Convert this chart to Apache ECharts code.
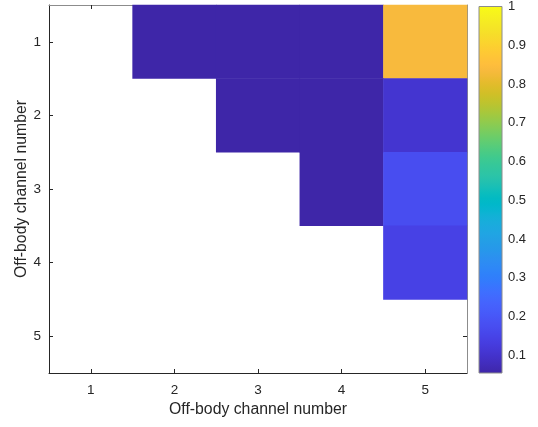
<!DOCTYPE html>
<html>
<head>
<meta charset="utf-8">
<script src="https://cdn.jsdelivr.net/npm/echarts@6/dist/echarts.min.js"></script>
<style>
html,body{margin:0;padding:0;background:#fff;}
#chart{width:538px;height:427px;}
</style>
</head>
<body>
<div id="chart"></div>
<script>
// Data
const xCategories = ['1', '2', '3', '4', '5'];
const yCategories = ['1', '2', '3', '4', '5'];
const row1 = [null, 0.054, 0.054, 0.054, 0.835];
const row2 = [null, null, 0.054, 0.054, 0.107];
const row3 = [null, null, null, 0.054, 0.174];
const row4 = [null, null, null, null, 0.144];
const row5 = [null, null, null, null, null];
const colorMin = 0.054;
const colorMax = 1;
const colorbarTicks = [0.1, 0.2, 0.3, 0.4, 0.5, 0.6, 0.7, 0.8, 0.9, 1];
const xTitle = 'Off-body channel number';
const yTitle = 'Off-body channel number';

// Parula colormap (64 entries)
const parula = [
[0.2422,0.1504,0.6603],[0.2504,0.1650,0.7076],[0.2578,0.1818,0.7511],[0.2647,0.1978,0.7952],
[0.2706,0.2147,0.8364],[0.2751,0.2342,0.8710],[0.2783,0.2559,0.8991],[0.2803,0.2782,0.9221],
[0.2813,0.3006,0.9414],[0.2810,0.3228,0.9579],[0.2795,0.3447,0.9717],[0.2760,0.3667,0.9829],
[0.2699,0.3892,0.9906],[0.2602,0.4123,0.9952],[0.2440,0.4358,0.9988],[0.2206,0.4603,0.9973],
[0.1963,0.4847,0.9892],[0.1834,0.5074,0.9798],[0.1786,0.5289,0.9682],[0.1764,0.5499,0.9520],
[0.1687,0.5703,0.9359],[0.1540,0.5902,0.9218],[0.1460,0.6091,0.9079],[0.1380,0.6276,0.8973],
[0.1248,0.6459,0.8883],[0.1113,0.6635,0.8763],[0.0952,0.6798,0.8598],[0.0689,0.6948,0.8394],
[0.0297,0.7082,0.8163],[0.0036,0.7203,0.7917],[0.0067,0.7312,0.7660],[0.0433,0.7411,0.7394],
[0.0964,0.7500,0.7120],[0.1408,0.7584,0.6842],[0.1717,0.7670,0.6554],[0.1938,0.7758,0.6251],
[0.2161,0.7843,0.5923],[0.2470,0.7918,0.5567],[0.2906,0.7973,0.5188],[0.3406,0.8008,0.4789],
[0.3909,0.8029,0.4354],[0.4456,0.8024,0.3909],[0.5044,0.7993,0.3480],[0.5616,0.7942,0.3045],
[0.6174,0.7876,0.2612],[0.6720,0.7793,0.2227],[0.7242,0.7698,0.1910],[0.7738,0.7598,0.1646],
[0.8203,0.7498,0.1535],[0.8634,0.7406,0.1596],[0.9035,0.7330,0.1774],[0.9393,0.7288,0.2100],
[0.9728,0.7298,0.2394],[0.9956,0.7434,0.2371],[0.9970,0.7659,0.2199],[0.9952,0.7893,0.2028],
[0.9892,0.8136,0.1885],[0.9786,0.8386,0.1766],[0.9676,0.8639,0.1643],[0.9610,0.8890,0.1537],
[0.9597,0.9135,0.1423],[0.9628,0.9373,0.1265],[0.9691,0.9606,0.1064],[0.9769,0.9839,0.0805]
];
function toHex(c){return '#'+c.map(v=>('0'+Math.round(v*255).toString(16)).slice(-2)).join('');}
const parulaHex = parula.map(toHex);

const rows = [row1, row2, row3, row4, row5];
const heatData = [];
rows.forEach((r, yi) => r.forEach((v, xi) => { if (v !== null) heatData.push([xi, yi, v]); }));

const axisColor = '#262626';
const boxColor = '#8c8c8c';
const font = 'Arial, "Liberation Sans", Helvetica, sans-serif';

const chart = echarts.init(document.getElementById('chart'), null, {renderer: 'canvas'});
const stops = parulaHex.map((c, i) => ({offset: i / (parulaHex.length - 1), color: c}));

const option = {
  animation: false,
  backgroundColor: '#fff',
  textStyle: {fontFamily: font},
  grid: [
    {left: 49, top: 5, width: 418, height: 368},
    {left: 479, top: 5, width: 23, height: 368}
  ],
  xAxis: [
    {
      type: 'category', data: xCategories, gridIndex: 0, position: 'bottom',
      axisLine: {show: true, lineStyle: {color: axisColor, width: 1}},
      axisTick: {show: true, inside: true, length: 4, alignWithLabel: true, lineStyle: {color: axisColor}},
      axisLabel: {color: axisColor, fontSize: 13.5, margin: 10, fontFamily: font},
      splitLine: {show: false},
      name: xTitle, nameLocation: 'middle', nameGap: 29, nameMoveOverlap: false,
      nameTextStyle: {color: axisColor, fontSize: 15.8, fontFamily: font}
    },
    {
      type: 'category', data: xCategories, gridIndex: 0, position: 'top',
      axisLine: {show: true, lineStyle: {color: boxColor, width: 1}},
      axisTick: {show: true, inside: true, length: 4, alignWithLabel: true, lineStyle: {color: axisColor}},
      axisLabel: {show: false}, splitLine: {show: false}
    },
    {
      type: 'category', data: ['c'], gridIndex: 1, show: false
    }
  ],
  yAxis: [
    {
      type: 'category', data: yCategories, gridIndex: 0, inverse: true, position: 'left',
      axisLine: {show: true, lineStyle: {color: axisColor, width: 1}},
      axisTick: {show: true, inside: true, length: 4, alignWithLabel: true, lineStyle: {color: axisColor}},
      axisLabel: {color: axisColor, fontSize: 13.5, margin: 8, fontFamily: font},
      splitLine: {show: false},
      name: yTitle, nameLocation: 'middle', nameGap: 19, nameRotate: 90, nameMoveOverlap: false,
      nameTextStyle: {color: axisColor, fontSize: 15.8, fontFamily: font}
    },
    {
      type: 'category', data: yCategories, gridIndex: 0, inverse: true, position: 'right',
      axisLine: {show: true, lineStyle: {color: boxColor, width: 1}},
      axisTick: {show: true, inside: true, length: 4, alignWithLabel: true, lineStyle: {color: axisColor}},
      axisLabel: {show: false}, splitLine: {show: false}
    },
    {
      type: 'value', gridIndex: 1, position: 'right', min: colorMin, max: colorMax,
      axisLine: {show: false},
      axisTick: {show: true, inside: true, length: 3, customValues: colorbarTicks, lineStyle: {color: axisColor}},
      axisLabel: {color: axisColor, fontSize: 13, margin: 6, customValues: colorbarTicks,
        formatter: v => String(Math.round(v * 10) / 10), fontFamily: font},
      splitLine: {show: false}
    }
  ],
  visualMap: {
    type: 'continuous', show: false, min: colorMin, max: colorMax, seriesIndex: 0,
    inRange: {color: parulaHex}
  },
  series: [
    {
      type: 'heatmap', xAxisIndex: 0, yAxisIndex: 0, data: heatData,
      itemStyle: {borderWidth: 0}, emphasis: {disabled: true}, z: 1
    },
    {
      type: 'custom', xAxisIndex: 2, yAxisIndex: 2, data: [[0, colorMin, colorMax]],
      silent: true,
      renderItem: function (params, api) {
        const cs = params.coordSys;
        const yTop = api.coord([0, api.value(2)])[1];
        const yBot = api.coord([0, api.value(1)])[1];
        return {
          type: 'rect',
          shape: {x: cs.x, y: yTop, width: cs.width, height: yBot - yTop},
          style: {
            fill: new echarts.graphic.LinearGradient(0, 1, 0, 0, stops),
            stroke: boxColor, lineWidth: 1
          }
        };
      },
      z: 1
    }
  ]
};
chart.setOption(option);
</script>
</body>
</html>
